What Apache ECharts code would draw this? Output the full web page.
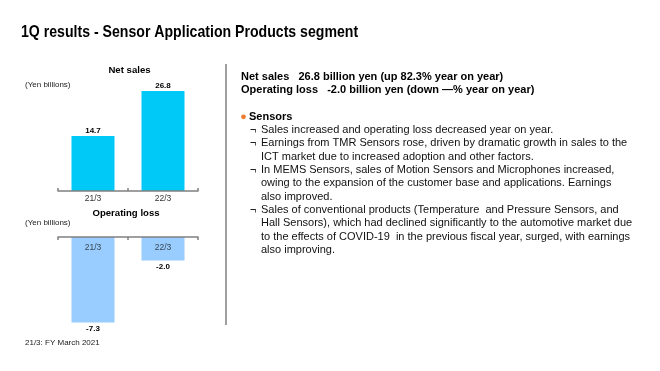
<!DOCTYPE html>
<html>
<head>
<meta charset="utf-8">
<script src="https://cdn.jsdelivr.net/npm/echarts@6/dist/echarts.min.js"></script>
<style>
html,body{margin:0;padding:0;background:#fff;}
#main{width:660px;height:371px;}
</style>
</head>
<body>
<div id="main"></div>
<script>
// ---- data ----
const categories = ['21/3', '22/3'];
const netSales = [14.7, 26.8];
const operatingLoss = [-7.3, -2.0];

const pageTitle = '1Q results - Sensor Application Products segment';
const netSalesTitle = 'Net sales';
const opLossTitle = 'Operating loss';
const unitLabel = '(Yen billions)';
const footnote = '21/3: FY March 2021';

const summaryLines = [
  'Net sales   26.8 billion yen (up 82.3% year on year)',
  'Operating loss   -2.0 billion yen (down \u2014% year on year)'
];
const sectionHeading = 'Sensors';
// [isBulletStart, text]
const bodyLines = [
  [true,  'Sales increased and operating loss decreased year on year.'],
  [true,  'Earnings from TMR Sensors rose, driven by dramatic growth in sales to the'],
  [false, 'ICT market due to increased adoption and other factors.'],
  [true,  'In MEMS Sensors, sales of Motion Sensors and Microphones increased,'],
  [false, 'owing to the expansion of the customer base and applications. Earnings'],
  [false, 'also improved.'],
  [true,  'Sales of conventional products (Temperature  and Pressure Sensors, and'],
  [false, 'Hall Sensors), which had declined significantly to the automotive market due'],
  [false, 'to the effects of COVID-19  in the previous fiscal year, surged, with earnings'],
  [false, 'also improving.']
];

// ---- rendering ----
const FONT = "'Liberation Sans', Arial, sans-serif";
const chart = echarts.init(document.getElementById('main'), null, {renderer: 'canvas'});

function txt(x, y, text, font, fill, align) {
  return {
    type: 'text', x: x, y: y, silent: true,
    style: {text: text, font: font, fill: fill || '#111', align: align || 'left', verticalAlign: 'middle'}
  };
}

const graphics = [];
const titleEl = txt(21, 32.5, pageTitle, 'bold 17px ' + FONT, '#000');
titleEl.scaleX = 0.83;
graphics.push(titleEl);
graphics.push(txt(129.5, 70, netSalesTitle, 'bold 9.6px ' + FONT, '#000', 'center'));
graphics.push(txt(25, 84.5, unitLabel, '8px ' + FONT, '#222'));
graphics.push(txt(126, 213.5, opLossTitle, 'bold 9.6px ' + FONT, '#000', 'center'));
graphics.push(txt(25, 222.5, unitLabel, '8px ' + FONT, '#222'));
graphics.push(txt(25, 342.5, footnote, '8px ' + FONT, '#222'));
graphics.push({type: 'line', silent: true, shape: {x1: 226, y1: 64, x2: 226, y2: 325},
  style: {stroke: '#808080', lineWidth: 1.5}});

summaryLines.forEach(function (s, i) {
  graphics.push(txt(241, 77 + i * 13.3, s, 'bold 11px ' + FONT, '#000'));
});
graphics.push({type: 'circle', silent: true, shape: {cx: 243.5, cy: 116.8, r: 2.4}, style: {fill: '#EC7C30'}});
graphics.push(txt(249, 116.8, sectionHeading, 'bold 11px ' + FONT, '#000'));
bodyLines.forEach(function (l, i) {
  const y = 130 + i * 13.33;
  if (l[0]) graphics.push(txt(250, y, '\u00AC', '11px ' + FONT, '#222'));
  graphics.push(txt(261, y, l[1], '11px ' + FONT, '#111'));
});

const axisLineStyle = {color: '#808080', width: 1.5};

chart.setOption({
  animation: false,
  backgroundColor: '#ffffff',
  grid: [
    {left: 58, top: 79, width: 140, height: 112},
    {left: 58, top: 237, width: 140, height: 93.6}
  ],
  xAxis: [
    {type: 'category', gridIndex: 0, data: categories, position: 'bottom', z: 5,
      axisLine: {lineStyle: axisLineStyle},
      axisTick: {show: true, inside: true, length: 3, lineStyle: axisLineStyle},
      axisLabel: {margin: 3, fontSize: 8.5, fontFamily: FONT, color: '#333'}},
    {type: 'category', gridIndex: 1, data: categories, position: 'top', z: 5,
      axisLine: {lineStyle: axisLineStyle},
      axisTick: {show: true, inside: true, length: 3, lineStyle: axisLineStyle},
      axisLabel: {inside: true, margin: 6, fontSize: 8.5, fontFamily: FONT, color: '#37474f'}}
  ],
  yAxis: [
    {type: 'value', gridIndex: 0, min: 0, max: 30, show: false, splitLine: {show: false}},
    {type: 'value', gridIndex: 1, min: -8, max: 0, show: false, splitLine: {show: false}}
  ],
  series: [
    {type: 'bar', name: 'Net sales', xAxisIndex: 0, yAxisIndex: 0, data: netSales, barWidth: 43,
      itemStyle: {color: '#00C9F7'},
      label: {show: true, position: 'top', distance: 1.5, fontSize: 8, fontWeight: 'bold', fontFamily: FONT, color: '#000',
        formatter: function (p) { return p.value.toFixed(1); }}},
    {type: 'bar', name: 'Operating loss', xAxisIndex: 1, yAxisIndex: 1, data: operatingLoss, barWidth: 43,
      itemStyle: {color: '#99CCFF'},
      label: {show: true, position: 'bottom', distance: 2, fontSize: 8, fontWeight: 'bold', fontFamily: FONT, color: '#000',
        formatter: function (p) { return p.value.toFixed(1); }}}
  ],
  graphic: graphics
});
</script>
</body>
</html>
